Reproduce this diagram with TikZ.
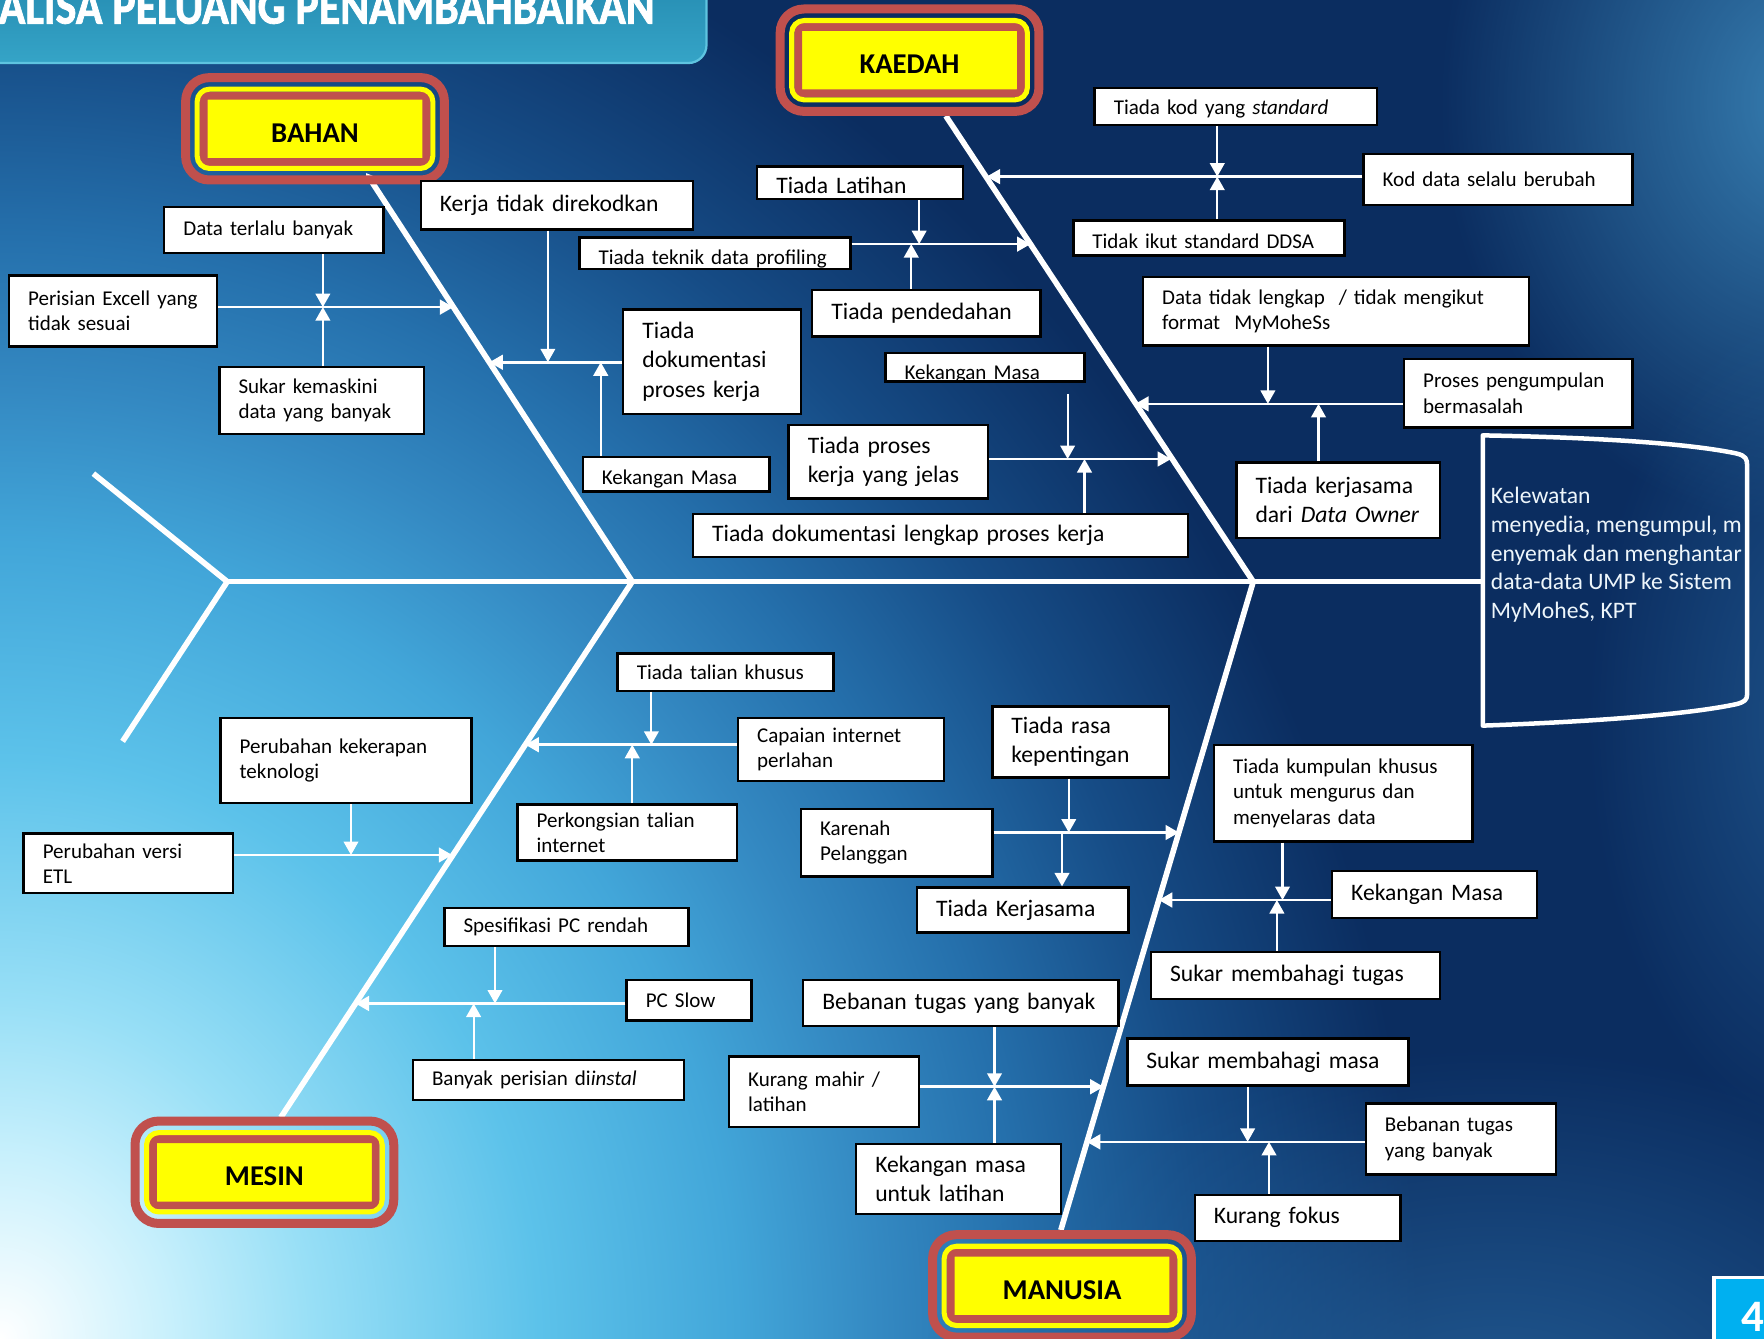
\documentclass[tikz,border=0pt]{standalone}
\usepackage{fontspec}
\setmainfont{Carlito}
\newfontfamily\titlefont[FakeBold=1.6]{Carlito}
\usepackage{graphicx}
\usetikzlibrary{arrows.meta,calc,fadings}
\definecolor{bgnavy}{HTML}{0B2D60}
\definecolor{glowA}{HTML}{C8F0FC}
\definecolor{glowB}{HTML}{98DFF6}
\definecolor{glowC}{HTML}{5CC2EA}
\definecolor{glowD}{HTML}{42A6D9}
\definecolor{glowE}{HTML}{3489C2}
\definecolor{glowF}{HTML}{2570AC}
\definecolor{glowG}{HTML}{164C86}
\definecolor{glowtr}{HTML}{3F8DC0}
\definecolor{glowbr}{HTML}{2A6BA5}
\definecolor{hdred}{HTML}{C0504D}
\definecolor{hdyellow}{HTML}{FFFF00}
\definecolor{bannertop}{HTML}{2388AE}
\definecolor{bannerbot}{HTML}{35A4C7}
\definecolor{bannerrim}{HTML}{5EC4E0}
\definecolor{pagecyan}{HTML}{00B0F0}
\definecolor{effwhite}{HTML}{EEF6FB}
\pgfdeclarelayer{backdrop}
\pgfdeclarelayer{bones}
\pgfsetlayers{backdrop,bones,main}
\pgfdeclareradialshading{slideglow}{\pgfpoint{0bp}{0bp}}{%
  color(0bp)=(white); color(3bp)=(glowA); color(5.5bp)=(glowB);
  color(9.5bp)=(glowC); color(13bp)=(glowD); color(15.5bp)=(glowE);
  color(18bp)=(glowF); color(21.25bp)=(glowG); color(25bp)=(bgnavy);
  color(50bp)=(bgnavy)}
\tikzfading[name=softspot, inner color=transparent!0, outer color=transparent!100]
% rings round a category box
\newcommand{\headframe}[1]{%
  \draw[hdyellow, line width=4.5pt, rounded corners=11pt]
    ($(#1.north west)+(-5.75,-5.75)$) rectangle ($(#1.south east)+(5.75,5.75)$);
  \draw[hdred, line width=8pt, rounded corners=21pt]
    ($(#1.north west)+(-16,-16)$) rectangle ($(#1.south east)+(16,16)$);
}
% one line of text sitting a little low in its box
\newcommand{\low}[2]{\raisebox{-#1pt}[\height][\depth]{#2}}

\begin{document}
\begin{tikzpicture}[x=1pt, y=-1pt,
    cause/.style={draw=black, line width=2.2pt, fill=white, align=left, inner xsep=17pt, inner ysep=0pt, font=\fontsize{18.7}{22.5}\selectfont},
    bigcause/.style={cause, font=\fontsize{21}{26}\selectfont},
    head/.style={fill=hdyellow, draw=hdred, line width=7pt, rounded corners=3pt, outer sep=0pt, minimum width=198pt, minimum height=59pt, text height=23.5pt, text depth=0pt, font=\bfseries\fontsize{25.5}{30}\selectfont},
    spine/.style={draw=white, line width=4.5pt},
    bone/.style={draw=white, line width=5pt},
    feed/.style={draw=white, line width=2.4pt, -{Triangle[length=12pt, width=13pt]}},
    twig/.style={draw=white, line width=1.9pt, -{Triangle[length=12pt, width=13pt]}},
    effecttext/.style={align=left, inner xsep=7pt, inner ysep=0pt, text=effwhite, font=\fontsize{21}{25.5}\selectfont},
    effectline/.style={draw=white, line width=4pt, line join=round},
    pagebox/.style={fill=pagecyan, draw=white, line width=3pt, minimum width=70pt, minimum height=70pt, text=white, font=\bfseries\fontsize{40}{40}\selectfont},
    titletext/.style={text=white, inner sep=0pt, font=\titlefont\bfseries}
  ]
  \useasboundingbox (0,0) rectangle (1568,1190);

  % Slide background
  \begin{pgfonlayer}{backdrop}
    \fill[bgnavy] (0,0) rectangle (1568,1190);
    \begin{scope}
      \clip (0,0) rectangle (1568,1190);
      \shade[shading=slideglow] (0,1190) ellipse (1260 and 1360);
      \fill[glowtr, path fading=softspot, fill opacity=0.85] (1610,90) ellipse (330 and 380);
      \fill[glowbr, path fading=softspot, fill opacity=0.75] (1330,1270) ellipse (520 and 340);
      \fill[glowbr, path fading=softspot, fill opacity=0.6] (1630,640) ellipse (220 and 380);
      \shadedraw[top color=bannertop, bottom color=bannerbot, draw=bannerrim, line width=2pt, rounded corners=16pt] (-30,-30) rectangle (628,56);
      \node[titletext, anchor=base east] (title) at (582,21) {\resizebox{632pt}{30pt}{ANALISA PELUANG PENAMBAHBAIKAN}};
    \end{scope}
  \end{pgfonlayer}

  % Categories
  \node[head] (bahan) at (280,114.5) {BAHAN};
  \node[head] (kaedah) at (808.5,53.5) {KAEDAH};
  \node[head] (mesin) at (235,1042) {MESIN};
  \node[head] (manusia) at (944,1143) {MANUSIA};
  \headframe{bahan}
  \headframe{kaedah}
  \headframe{mesin}
  \headframe{manusia}

  % Effect
  \begin{scope}
    \clip (1318,380) rectangle (1551,660);
    \node[effecttext, anchor=north west] (effect) at (1318,433) {Kelewatan\\menyedia, mengumpul, m\\enyemak dan menghantar\\data-data UMP ke Sistem\\MyMoheS, KPT};
  \end{scope}
  \draw[effectline] (1318,387) .. controls (1430,389) and (1505,395) .. (1543,403)
    .. controls (1552,405) and (1553,408) .. (1553,414) -- (1553,617)
    .. controls (1553,622) and (1551,624) .. (1543,626)
    .. controls (1505,634) and (1430,641) .. (1318,645) -- cycle;

  % Spine joints
  \coordinate (tail) at (202,517);
  \coordinate (tailup) at (83,421);
  \coordinate (taildown) at (109,659);
  \coordinate (jl) at (562,517);
  \coordinate (jr) at (1114,517);

  % Bahan causes
  \node[cause, text width=161pt, minimum height=41pt] (datab) at (243.5,204.5) {Data terlalu banyak};
  \node[cause, text width=151pt, minimum height=63pt] (perisian) at (100.5,276.5) {Perisian Excell yang\\tidak sesuai};
  \node[cause, text width=148pt, minimum height=60pt] (sukar) at (286,356) {Sukar kemaskini\\data yang banyak};
  \node[bigcause, text width=208pt, minimum height=43pt] (kerja) at (495,182.5) {Kerja tidak direkodkan};
  \node[bigcause, text width=124pt, minimum height=93pt] (tdok) at (633,321.5) {Tiada\\dokumentasi\\proses kerja};
  \node[cause, text width=132pt, minimum height=31pt] (kmasa1) at (601,421.5) {\low{4}{Kekangan Masa}};

  % Kaedah causes
  \node[cause, text width=207pt, minimum height=28pt] (teknik) at (635.5,225) {\low{5}{Tiada teknik data profiling}};
  \node[bigcause, text width=149pt, minimum height=29pt] (latihan) at (764.5,162.5) {\low{2}{Tiada Latihan}};
  \node[bigcause, text width=169pt, minimum height=41pt] (dedah) at (823.5,278.5) {Tiada pendedahan};
  \node[cause, text width=217pt, minimum height=33pt] (kod) at (1098.5,94.5) {\low{2}{Tiada kod yang \textit{standard}}};
  \node[cause, text width=205pt, minimum height=45pt] (kodubah) at (1331.5,159.5) {Kod data selalu berubah};
  \node[cause, text width=207pt, minimum height=31pt] (ddsa) at (1074.5,211.5) {\low{3}{Tidak ikut standard DDSA}};
  \node[cause, text width=309pt, minimum height=61pt] (lengkap) at (1187.5,276.5) {Data tidak lengkap~ / tidak mengikut\\format~ MyMoheSs};
  \node[cause, text width=169pt, minimum height=61pt] (kumpul) at (1349.5,349.5) {Proses pengumpulan\\bermasalah};
  \node[bigcause, text width=147pt, minimum height=67pt] (kerjasama) at (1189.5,444.5) {Tiada kerjasama\\dari \textit{Data Owner}};
  \node[cause, text width=143pt, minimum height=25pt] (kmasa2) at (875.5,326.5) {\low{6}{Kekangan Masa}};
  \node[bigcause, text width=143pt, minimum height=65pt] (tproses) at (789.5,410.5) {Tiada proses\\kerja yang jelas};
  \node[bigcause, text width=406pt, minimum height=38pt] (tdokl) at (836,476) {Tiada dokumentasi lengkap proses kerja};

  % Mesin causes
  \node[cause, text width=158pt, minimum height=33pt] (talian) at (645,597.5) {Tiada talian khusus};
  \node[cause, text width=149pt, minimum height=56pt] (capaian) at (747.5,666) {Capaian internet\\perlahan};
  \node[cause, text width=161pt, minimum height=50pt] (kongsi) at (557.5,740) {Perkongsian talian\\internet};
  \node[cause, text width=189pt, minimum height=76pt] (kekerapan) at (307.5,676) {Perubahan kekerapan\\teknologi};
  \node[cause, text width=152pt, minimum height=53pt] (versi) at (114,767.5) {Perubahan versi\\ETL};
  \node[cause, text width=183pt, minimum height=34pt] (spek) at (503.5,824) {Spesifikasi PC rendah};
  \node[cause, text width=77pt, minimum height=36pt] (pcslow) at (612.5,889) {PC Slow};
  \node[cause, text width=207pt, minimum height=36pt] (instal) at (487.5,960) {Banyak perisian di\textit{instal}};

  % Manusia causes
  \node[bigcause, text width=123pt, minimum height=63pt] (rasa) at (960.5,659.5) {Tiada rasa\\kepentingan};
  \node[cause, text width=136pt, minimum height=60pt] (karenah) at (797,749) {Karenah\\Pelanggan};
  \node[bigcause, text width=154pt, minimum height=40pt] (tkerja) at (909,809) {Tiada Kerjasama};
  \node[cause, text width=196pt, minimum height=86pt] (kumpulan) at (1194,705) {Tiada kumpulan khusus\\untuk mengurus dan\\menyelaras data};
  \node[bigcause, text width=148pt, minimum height=42pt] (kmasa3) at (1275,795) {Kekangan Masa};
  \node[bigcause, text width=223pt, minimum height=42pt] (tugas) at (1151.5,867) {Sukar membahagi tugas};
  \node[bigcause, text width=246pt, minimum height=41pt] (beban1) at (854,891.5) {Bebanan tugas yang banyak};
  \node[cause, text width=135pt, minimum height=63pt] (mahir) at (732.5,970.5) {Kurang mahir /\\latihan};
  \node[bigcause, text width=148pt, minimum height=62pt] (kmlatih) at (852,1048) {Kekangan masa\\untuk latihan};
  \node[bigcause, text width=216pt, minimum height=42pt] (masa) at (1127,944) {Sukar membahagi masa};
  \node[cause, text width=135pt, minimum height=63pt] (beban2) at (1298.5,1012.5) {Bebanan tugas\\yang banyak};
  \node[bigcause, text width=149pt, minimum height=41pt] (fokus) at (1153.5,1082.5) {Kurang fokus};

  % Page number
  \node[pagebox, anchor=north west] (pagenum) at (1522,1134) {4};

  % Spine and bones
  \begin{pgfonlayer}{bones}
    \draw[spine] (tail) -- (effect.west |- tail);
    \draw[bone] (tail) -- (tailup);
    \draw[bone] (tail) -- (taildown);
    \draw[bone, -{Triangle[length=7pt, width=9pt]}, shorten >=11.7pt] (jl) -- ([xshift=39pt]bahan.south);
    \draw[bone, shorten >=24pt] (jr) -- ([xshift=19pt]kaedah.south);
    \draw[bone, shorten >=23pt] (jl) -- ([xshift=2pt]mesin.north);
    \draw[bone, shorten >=21pt] (jr) -- ([xshift=-7pt]manusia.north);
  \end{pgfonlayer}

  % Bahan branches
  \coordinate (jA) at (287,273);  \coordinate (bA) at (403,273);
  \coordinate (jB1) at (487,322); \coordinate (jB2) at (534,322); \coordinate (bB) at (435,322);
  \draw[feed] (perisian.east |- jA) -- (bA);
  \draw[twig] (datab.south -| jA) -- (jA);
  \draw[twig] (sukar.north -| jA) -- (jA);
  \draw[feed] (tdok.west |- jB1) -- (bB);
  \draw[twig] (kerja.south -| jB1) -- (jB1);
  \draw[twig] (kmasa1.north -| jB2) -- (jB2);

  % Kaedah branches
  \coordinate (jC1) at (817,217);  \coordinate (jC2) at (810,217);  \coordinate (bC) at (916,217);
  \coordinate (jD) at (1082,157);  \coordinate (bD) at (877,157);
  \coordinate (jE1) at (1127,359); \coordinate (jE2) at (1172,359); \coordinate (bE) at (1009,359);
  \coordinate (jF1) at (949,408);  \coordinate (jF2) at (964,408);  \coordinate (bF) at (1041,408);
  \draw[feed] (teknik.east |- jC1) -- (bC);
  \draw[twig] (latihan.south -| jC1) -- (jC1);
  \draw[twig] (dedah.north -| jC2) -- (jC2);
  \draw[feed] (kodubah.west |- jD) -- (bD);
  \draw[twig] (kod.south -| jD) -- (jD);
  \draw[twig] (ddsa.north -| jD) -- (jD);
  \draw[feed] (kumpul.west |- jE1) -- (bE);
  \draw[twig] (lengkap.south -| jE1) -- (jE1);
  \draw[twig] (kerjasama.north -| jE2) -- (jE2);
  \draw[feed] (tproses.east |- jF1) -- (bF);
  \draw[twig, shorten <=10pt] (kmasa2.south -| jF1) -- (jF1);
  \draw[twig] (tdokl.north -| jF2) -- (jF2);

  % Mesin branches
  \coordinate (jG1) at (579,662); \coordinate (jG2) at (562,662); \coordinate (bG) at (467,662);
  \coordinate (jH) at (312,760);  \coordinate (bH) at (402,760);
  \coordinate (jI1) at (440,892); \coordinate (jI2) at (421,892); \coordinate (bI) at (316,892);
  \draw[feed] (capaian.west |- jG1) -- (bG);
  \draw[twig] (talian.south -| jG1) -- (jG1);
  \draw[twig] (kongsi.north -| jG2) -- (jG2);
  \draw[feed] (versi.east |- jH) -- (bH);
  \draw[twig] (kekerapan.south -| jH) -- (jH);
  \draw[feed] (pcslow.west |- jI1) -- (bI);
  \draw[twig] (spek.south -| jI1) -- (jI1);
  \draw[twig] (instal.north -| jI2) -- (jI2);

  % Manusia branches
  \coordinate (jJ1) at (950,740);   \coordinate (jJ2) at (944,740);   \coordinate (bJ) at (1048,740);
  \coordinate (jK1) at (1140,800);  \coordinate (jK2) at (1135,800);  \coordinate (bK) at (1030,800);
  \coordinate (jL) at (884,966);    \coordinate (bL) at (981,966);
  \coordinate (jM1) at (1109,1015); \coordinate (jM2) at (1128,1015); \coordinate (bM) at (966,1015);
  \draw[feed] (karenah.east |- jJ1) -- (bJ);
  \draw[twig] (rasa.south -| jJ1) -- (jJ1);
  \draw[twig] (jJ2) -- (tkerja.north -| jJ2);
  \draw[feed] (kmasa3.west |- jK1) -- (bK);
  \draw[twig] (kumpulan.south -| jK1) -- (jK1);
  \draw[twig] (tugas.north -| jK2) -- (jK2);
  \draw[feed] (mahir.east |- jL) -- (bL);
  \draw[twig] (beban1.south -| jL) -- (jL);
  \draw[twig] (kmlatih.north -| jL) -- (jL);
  \draw[feed] (beban2.west |- jM1) -- (bM);
  \draw[twig] (masa.south -| jM1) -- (jM1);
  \draw[twig] (fokus.north -| jM2) -- (jM2);
\end{tikzpicture}
\end{document}
